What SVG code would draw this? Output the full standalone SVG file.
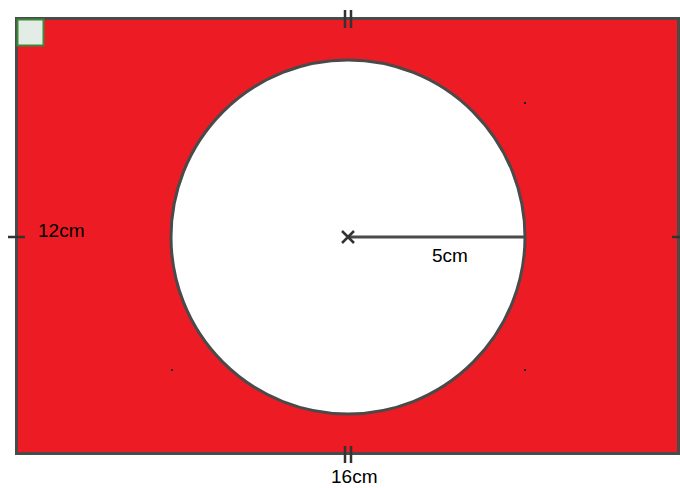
<svg xmlns="http://www.w3.org/2000/svg" width="680" height="488" viewBox="0 0 680 488">
<style>
.ln{stroke:#4a4a4a;stroke-width:3;fill:none}
.tk{stroke:#333;stroke-width:2.5;fill:none}
.lb{font-family:"Liberation Sans",Arial,sans-serif;font-size:19px;fill:#000}
.dot{fill:#222}
</style>
<rect width="680" height="488" fill="#fff"/>
<g id="rectangle">
<rect x="16.5" y="18.5" width="662" height="435" class="ln" style="fill:#ed1c24"/>
</g>
<g id="right-angle">
<rect x="17.5" y="19.5" width="26" height="26" fill="#e4ece6" stroke="#3a8a3a" stroke-width="2"/>
</g>
<g id="circle">
<circle cx="348" cy="237" r="177" class="ln" style="fill:#fff"/>
</g>
<g id="connectors">
<line x1="348" y1="237" x2="525" y2="237" class="ln"/>
<path d="M342 231L354 243M354 231L342 243" class="tk"/>
<path d="M345 10V28M351 10V28" class="tk"/>
<path d="M345 446V463M351 446V463" class="tk"/>
<path d="M8 237H25" class="tk"/>
<path d="M672 237H680" class="tk"/>
<rect x="524" y="102" width="2" height="2" class="dot"/>
<rect x="171" y="369" width="2" height="2" class="dot"/>
<rect x="524" y="369" width="2" height="2" class="dot"/>
</g>
<g id="labels">
<text x="38" y="237" class="lb">12cm</text>
<text x="432" y="262" class="lb">5cm</text>
<text x="331" y="483" class="lb">16cm</text>
</g>
</svg>
